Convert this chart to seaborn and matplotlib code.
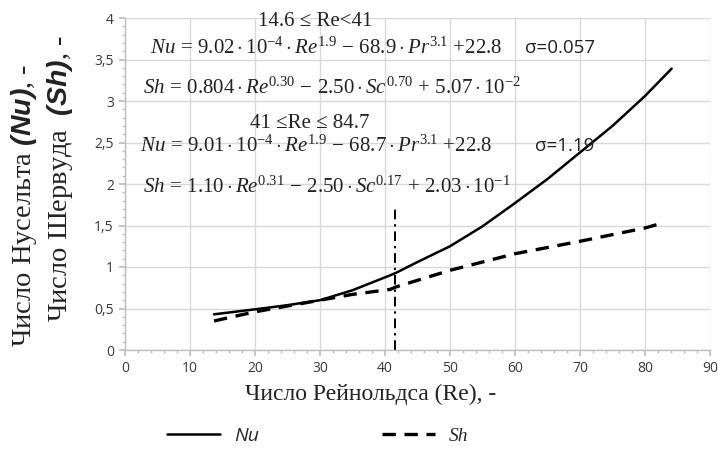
import matplotlib
matplotlib.use("Agg")
import matplotlib.pyplot as plt
import seaborn as sns
from matplotlib.ticker import MultipleLocator, FuncFormatter

# Nusselt number vs Reynolds number
re_nu = [13.7, 20, 25, 30, 35, 40.8, 41.7, 45, 50, 55, 60, 65, 70, 75, 80, 84.1]
nu = [0.43, 0.49, 0.54, 0.60, 0.72, 0.90, 0.93, 1.06, 1.25, 1.49, 1.77, 2.06,
      2.38, 2.70, 3.06, 3.39]

# Sherwood number vs Reynolds number
re_sh = [13.7, 20, 25, 30, 35, 40.8, 41.7, 50, 60, 70, 80, 82.7]
sh = [0.35, 0.46, 0.53, 0.60, 0.67, 0.73, 0.76, 0.96, 1.16, 1.31, 1.47, 1.53]

# boundary between the two correlation ranges
split_re = 41.5
split_top = 1.75

x_ticks = [0, 10, 20, 30, 40, 50, 60, 70, 80, 90]
y_ticks = [0, 0.5, 1, 1.5, 2, 2.5, 3, 3.5, 4]

sns.set_theme(style="white")
plt.rcParams["mathtext.fontset"] = "custom"
plt.rcParams["mathtext.rm"] = "Liberation Serif"
plt.rcParams["mathtext.it"] = "Liberation Serif:italic"
plt.rcParams["mathtext.bf"] = "Liberation Serif:bold"
plt.rcParams["mathtext.bfit"] = "Liberation Sans:italic:bold"

fig = plt.figure(figsize=(7.18, 4.55), dpi=100)
ax = fig.add_axes([125 / 718, 1 - 350 / 455, 585 / 718, 332 / 455])

sns.lineplot(x=re_nu, y=nu, ax=ax, color="black", lw=1.8, label="Nu")
sns.lineplot(x=re_sh, y=sh, ax=ax, color="black", lw=2.4,
             linestyle=(0, (4, 2.6)), label="Sh")
ax.vlines(split_re, 0, split_top, color="black", lw=1.4,
          linestyles=[(0, (5, 2.5, 1.2, 2.5))])

ax.set_xlim(0, 90)
ax.set_ylim(0, 4)
ax.set_xticks(x_ticks)
ax.set_yticks(y_ticks)
ax.xaxis.set_minor_locator(MultipleLocator(2))
ax.yaxis.set_minor_locator(MultipleLocator(0.1))
ax.yaxis.set_major_formatter(FuncFormatter(lambda v, p: f"{v:g}".replace(".", ",")))
ax.grid(True, which="major", color="#d9d9d9", lw=1.0)
ax.set_axisbelow(True)
for s in ["top", "right"]:
    ax.spines[s].set_visible(False)
for s in ["left", "bottom"]:
    ax.spines[s].set_color("#bfbfbf")
    ax.spines[s].set_linewidth(1.0)
ax.tick_params(which="major", length=4, color="#bfbfbf", labelsize=10,
               labelcolor="#3a3a3a", pad=4)
ax.tick_params(which="minor", length=2.5, color="#bfbfbf")
ax.tick_params(axis="x", which="both", bottom=True, direction="out")
ax.tick_params(axis="y", which="both", left=True, direction="out")
for lab in ax.get_xticklabels() + ax.get_yticklabels():
    lab.set_fontfamily("Open Sans")

ax.set_xlabel("Число Рейнольдса (Re), -", fontfamily="Liberation Serif",
              fontsize=17, color="#222222")
ax.xaxis.set_label_coords((371 - 125) / 585, -(384 - 350) / 332)

ylab_kw = dict(rotation=90, ha="center", va="center",
               fontfamily="Liberation Serif", fontsize=20.5, color="#222222")
fig.text(24 / 718, 1 - 205 / 455, r"Число Нусельта $\mathbfit{(Nu)}$, -", **ylab_kw)
fig.text(60 / 718, 1 - 179 / 455, r"Число Шервуда  $\mathbfit{(Sh)}$, -", **ylab_kw)

# correlation equations
eq_kw = dict(fontfamily="Liberation Serif", fontsize=15, color="#222222",
             va="center")
sig_kw = dict(fontfamily="Open Sans", fontsize=13.5, color="#222222",
              va="center", ha="left")
fig.text(315 / 718, 1 - 22 / 455, "14.6 ≤ Re<41", ha="center", **eq_kw)
fig.text(150 / 718, 1 - 48 / 455,
         r"$Nu\,=\,9.02\cdot10^{-4}\cdot Re^{1.9}\,-\,68.9\cdot Pr^{3.1}\ {+}22.8$",
         ha="left", **eq_kw)
fig.text(525 / 718, 1 - 48 / 455, "σ=0.057", **sig_kw)
fig.text(143 / 718, 1 - 88 / 455,
         r"$Sh\,=\,0.804\cdot Re^{0.30}\,-\,2.50\cdot Sc^{0.70}\,+\,5.07\cdot10^{-2}$",
         ha="left", **eq_kw)
fig.text(310 / 718, 1 - 124 / 455, "41 ≤Re ≤ 84.7", ha="center", **eq_kw)
fig.text(140 / 718, 1 - 146 / 455,
         r"$Nu\,=\,9.01\cdot10^{-4}\cdot Re^{1.9}\,-\,68.7\cdot Pr^{3.1}\ {+}22.8$",
         ha="left", **eq_kw)
fig.text(535 / 718, 1 - 146 / 455, "σ=1.19", **sig_kw)
fig.text(143 / 718, 1 - 187 / 455,
         r"$Sh\,=\,1.10\cdot Re^{0.31}\,-\,2.50\cdot Sc^{0.17}\,+\,2.03\cdot10^{-1}$",
         ha="left", **eq_kw)

# legend below the axes
handles, labels = ax.get_legend_handles_labels()
ax.get_legend().remove()
leg = fig.legend(handles, labels, loc="center",
                 bbox_to_anchor=(318 / 718, 1 - 436 / 455),
                 ncol=2, frameon=False, handlelength=2.7, columnspacing=6.3,
                 handletextpad=0.75, prop={"size": 14})
leg.get_texts()[0].set_fontfamily("Open Sans")
leg.get_texts()[0].set_fontstyle("italic")
leg.get_texts()[1].set_fontfamily("Liberation Serif")
leg.get_texts()[1].set_fontstyle("italic")

fig.savefig("out.png", dpi=100)
